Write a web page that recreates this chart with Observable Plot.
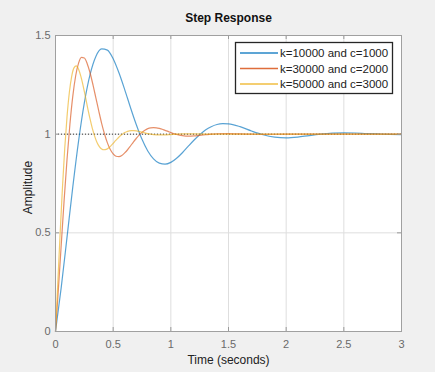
<!DOCTYPE html>
<html>
<head>
<meta charset="utf-8">
<script src="https://cdn.jsdelivr.net/npm/d3@7"></script>
<script src="https://cdn.jsdelivr.net/npm/@observablehq/plot@0.6"></script>
<style>
  html, body { margin: 0; padding: 0; background: #ffffff; }
  #bg { position: absolute; left: 0; top: 0; width: 435px; height: 372px; background: #f0f0f0; }
  #chart { position: absolute; left: 0; top: 0; }
</style>
</head>
<body>
<div id="bg"></div>
<div id="chart"></div>
<script>
// ---- data ----
const seriesNames = ["k=10000 and c=1000", "k=30000 and c=2000", "k=50000 and c=3000"];
const seriesColors = ["#0072BD", "#D95319", "#EDB120"];

const tBlue = [0,0.05,0.1,0.15,0.2,0.25,0.3,0.35,0.4,0.45,0.5,0.55,0.6,0.65,0.7,0.75,0.8,0.85,0.9,0.95,
  1.0,1.05,1.1,1.15,1.2,1.25,1.3,1.35,1.4,1.45,1.5,1.6,1.7,1.8,1.9,2.0,2.1,2.2,2.3,2.4,2.5,2.6,2.7,2.8,2.9,3.0];
const yBlue = [0,0.225,0.478,0.733,0.965,1.159,1.303,1.394,1.432,1.426,1.382,1.311,1.226,1.135,1.049,0.974,0.915,0.875,0.853,0.848,
  0.857,0.878,0.906,0.938,0.969,0.997,1.021,1.038,1.049,1.053,1.052,1.038,1.016,0.997,0.985,0.981,0.985,0.993,1.000,1.005,1.007,1.006,1.003,1.001,0.999,0.998];

const tRed = [0,0.025,0.05,0.075,0.1,0.125,0.15,0.175,0.2,0.225,0.25,0.275,0.3,0.325,0.35,0.375,0.4,0.425,0.45,0.475,
  0.5,0.525,0.55,0.575,0.6,0.625,0.65,0.675,0.7,0.725,0.75,0.775,0.8,0.825,0.85,0.875,0.9,0.925,0.95,0.975,1.0,
  1.05,1.1,1.15,1.2,1.25,1.3,1.35,1.4,1.5,1.6,1.7,1.8,2.0,2.5,3.0];
const yRed = [0,0.214,0.442,0.667,0.873,1.050,1.193,1.296,1.360,1.389,1.386,1.357,1.310,1.250,1.184,1.118,1.055,1.001,0.956,0.922,
  0.900,0.888,0.886,0.892,0.905,0.921,0.940,0.960,0.978,0.995,1.009,1.020,1.028,1.032,1.033,1.032,1.029,1.025,1.019,1.014,1.008,
  0.999,0.993,0.990,0.991,0.994,0.997,1.000,1.002,1.003,1.001,1.000,0.999,1.000,1.000,1.000];

const tYellow = [0,0.02,0.04,0.06,0.08,0.1,0.12,0.14,0.16,0.18,0.2,0.22,0.24,0.26,0.28,0.3,0.32,0.34,0.36,0.38,
  0.4,0.42,0.44,0.46,0.48,0.5,0.52,0.54,0.56,0.58,0.6,0.62,0.64,0.66,0.68,0.7,0.72,0.74,0.76,
  0.8,0.85,0.9,0.95,1.0,1.05,1.1,1.2,1.4,1.7,2.0,2.5,3.0];
const yYellow = [0,0.247,0.495,0.726,0.927,1.089,1.211,1.292,1.336,1.346,1.329,1.293,1.244,1.188,1.130,1.076,1.028,0.989,0.958,0.937,
  0.925,0.921,0.923,0.930,0.941,0.953,0.967,0.979,0.991,1.000,1.008,1.013,1.017,1.018,1.018,1.017,1.014,1.012,1.009,
  1.003,0.998,0.996,0.996,0.998,1.000,1.001,1.001,1.000,1.000,1.000,1.000,1.000];

const steadyState = [1];
const xTicks = [0, 0.5, 1, 1.5, 2, 2.5, 3];
const xTickLabels = ["0", "0.5", "1", "1.5", "2", "2.5", "3"];
const yTicks = [0, 0.5, 1, 1.5];
const yTickLabels = ["0", "0.5", "1", "1.5"];
const xGrid = [0.5, 1, 1.5, 2, 2.5];
const yGrid = [0.5, 1];
const titleText = "Step Response";
const xLabel = "Time (seconds)";
const yLabel = "Amplitude";

// ---- table for Plot ----
const rows = [];
[[tBlue, yBlue], [tRed, yRed], [tYellow, yYellow]].forEach(([ts, ys], s) => {
  ts.forEach((t, i) => rows.push({series: seriesNames[s], t, y: ys[i]}));
});

const FONT = "'Liberation Sans', Arial, Helvetica, sans-serif";

const chart = Plot.plot({
  width: 440,
  height: 378,
  marginLeft: 55,
  marginRight: 39,
  marginTop: 35,
  marginBottom: 47,
  style: {background: "transparent", fontFamily: FONT, fontSize: "11px", overflow: "visible"},
  x: {domain: [0, 3], label: null},
  y: {domain: [0, 1.5], label: null},
  color: {domain: seriesNames, range: seriesColors},
  marks: [
    Plot.frame({fill: "white", stroke: "none"}),
    Plot.gridX(xGrid, {stroke: "#dedede", strokeOpacity: 1}),
    Plot.gridY(yGrid, {stroke: "#dedede", strokeOpacity: 1}),
    Plot.ruleY(steadyState, {y: d => d, stroke: "#333333", strokeDasharray: "1,2", strokeWidth: 1}),
    Plot.line(rows, {x: "t", y: "y", z: "series", stroke: "series", strokeWidth: 1.2, strokeOpacity: 0.65, curve: "monotone-x"}),
    Plot.tickX(xTicks, {x: d => d, insetTop: 292, stroke: "#9a9a9a"}),
    Plot.tickX(xTicks, {x: d => d, insetBottom: 292, stroke: "#9a9a9a"}),
    Plot.tickY(yTicks, {y: d => d, insetRight: 342, stroke: "#9a9a9a"}),
    Plot.tickY(yTicks, {y: d => d, insetLeft: 342, stroke: "#9a9a9a"}),
    Plot.frame({stroke: "#a0a0a0"}),
    Plot.axisX({ticks: xTicks, tickFormat: d => xTickLabels[xTicks.indexOf(d)], tickSize: 0, tickPadding: 9, color: "#6a6a6a", fontSize: 11, label: null}),
    Plot.axisY({ticks: yTicks, tickFormat: d => yTickLabels[yTicks.indexOf(d)], tickSize: 0, tickPadding: 5, color: "#6a6a6a", fontSize: 11, label: null}),
    Plot.text([titleText], {frameAnchor: "top", dy: -17, lineAnchor: "middle", textAnchor: "middle", fontWeight: "bold", fontSize: 12, fill: "#111"}),
    Plot.text([xLabel], {frameAnchor: "bottom", dy: 29, lineAnchor: "middle", textAnchor: "middle", fontSize: 12, fill: "#222"}),
    Plot.text([yLabel], {frameAnchor: "left", dx: -27, dy: 4, rotate: -90, lineAnchor: "middle", textAnchor: "middle", fontSize: 12, fill: "#222"})
  ]
});

document.getElementById("chart").appendChild(chart);

// ---- legend (inside the axes, top right) ----
const svg = d3.select(chart);
const lg = svg.append("g").attr("font-family", FONT).attr("font-size", 11.5).attr("text-anchor", "start");
lg.append("rect").attr("x", 235.5).attr("y", 42.5).attr("width", 157).attr("height", 51)
  .attr("fill", "white").attr("stroke", "#262626").attr("stroke-width", 1.3);
seriesNames.forEach((name, i) => {
  const yy = 53 + i * 15.5;
  lg.append("line").attr("x1", 240).attr("x2", 278).attr("y1", yy).attr("y2", yy)
    .attr("stroke", seriesColors[i]).attr("stroke-width", 1.5).attr("stroke-opacity", 0.85);
  lg.append("text").attr("x", 280).attr("y", yy).attr("dy", "0.35em").attr("text-anchor", "start").attr("fill", "#222").text(name);
});
</script>
</body>
</html>
